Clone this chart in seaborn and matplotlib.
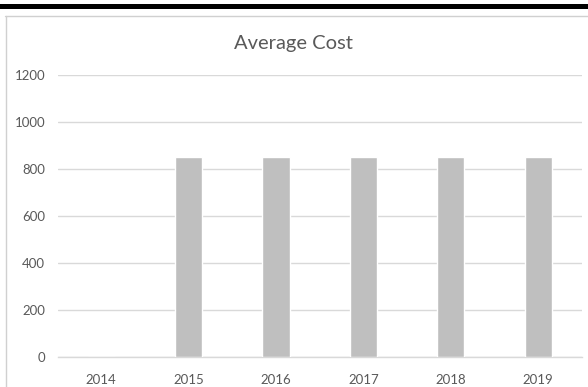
import matplotlib
matplotlib.use("Agg")
import matplotlib.pyplot as plt
from matplotlib.lines import Line2D
from matplotlib.patches import Rectangle
import seaborn as sns
import pandas as pd

years = ["2014", "2015", "2016", "2017", "2018", "2019"]
avg_cost = [0, 850, 850, 850, 850, 850]
y_ticks = [0, 200, 400, 600, 800, 1000, 1200]
title = "Average Cost"

sns.set_style("white")
plt.rcParams["font.family"] = ["Lato", "DejaVu Sans"]

W, H = 588, 387
fig = plt.figure(figsize=(W / 100, H / 100), dpi=100)
ax = fig.add_axes([57.5 / W, 1 - 357 / H, (582 - 57.5) / W, (357 - 75) / H])

df = pd.DataFrame({"year": years, "cost": avg_cost})
sns.barplot(data=df, x="year", y="cost", color="#bfbfbf", width=0.31,
            saturation=1, ax=ax, zorder=3)

ax.set_ylim(0, 1200)
ax.set_yticks(y_ticks)
ax.set_yticklabels([str(t) for t in y_ticks])
ax.set_xlim(-0.5, len(years) - 0.5)
ax.grid(axis="y", color="#d9d9d9", linewidth=1, zorder=0)
ax.set_axisbelow(True)
for s in ["top", "right", "left"]:
    ax.spines[s].set_visible(False)
ax.spines["bottom"].set_color("#d9d9d9")
ax.spines["bottom"].set_linewidth(1)
ax.tick_params(axis="both", length=0, colors="#595959", labelsize=9.5)
ax.tick_params(axis="y", pad=9)
ax.tick_params(axis="x", pad=12)
ax.set_xlabel("")
ax.set_ylabel("")

fig.text(293 / W, 1 - 44 / H, title, ha="center", va="center",
         fontsize=14.5, color="#595959")

# decorative frame
fig.add_artist(Rectangle((0, 1 - 8.5 / H), 1, 4.5 / H, transform=fig.transFigure,
                         facecolor="black", edgecolor="none"))
fig.add_artist(Line2D([5 / W, 1], [1 - 15.5 / H, 1 - 15.5 / H], transform=fig.transFigure,
                      color="#d0d0d0", linewidth=1))
fig.add_artist(Line2D([5.5 / W, 5.5 / W], [0, 1 - 15.5 / H], transform=fig.transFigure,
                      color="#d0d0d0", linewidth=1))

fig.savefig("out.png", dpi=100)
